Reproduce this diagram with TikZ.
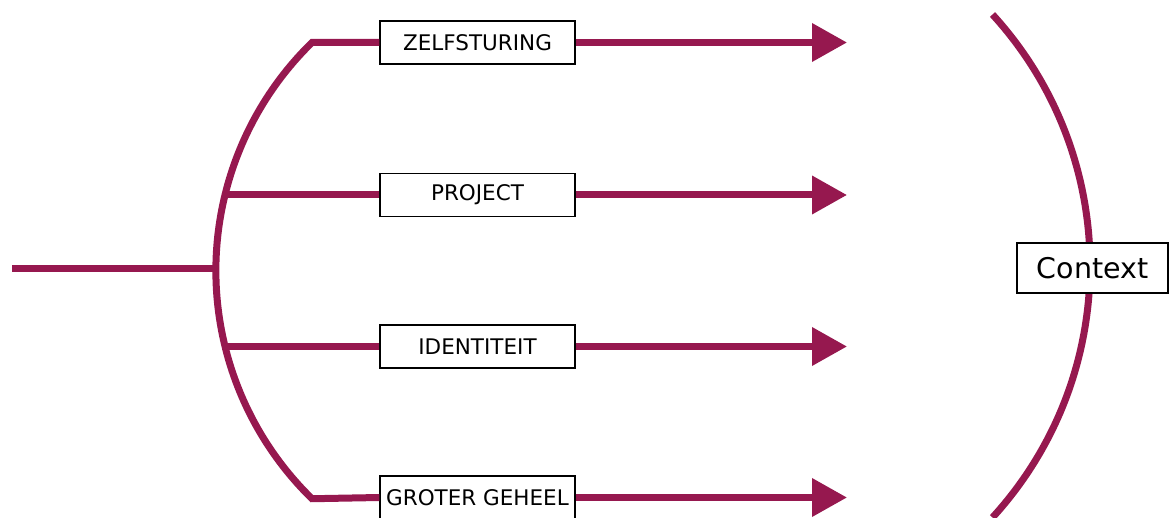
\documentclass[tikz,border=0pt]{standalone}
\usepackage{fontspec}
\setmainfont{DejaVu Sans}
\usetikzlibrary{arrows.meta}
\definecolor{wine}{HTML}{96184F}
\tikzset{
  lbl/.style={draw=black, line width=1.3pt, fill=white, minimum width=195pt, minimum height=43pt, inner sep=0pt, font=\fontsize{21.5}{24}\selectfont},
  ctx/.style={draw=black, line width=1.3pt, fill=white, minimum width=151pt, minimum height=50pt, inner sep=0pt, font=\fontsize{28.5}{32}\selectfont},
  wline/.style={draw=wine, line width=7pt},
  warrow/.style={wline, -{Triangle[length=35pt,width=37pt]}}
}
\begin{document}
\begin{tikzpicture}[x=1pt,y=1pt]
\useasboundingbox (0,0) rectangle (1169,-518);
% boxes
\node[lbl] (z) at (477.5,-42.5) {ZELFSTURING};
\node[lbl] (p) at (477.5,-195) {PROJECT};
\node[lbl] (i) at (477.5,-346.5) {IDENTITEIT};
\node[lbl] (g) at (477.5,-497.5) {GROTER GEHEEL};
% coordinates
\coordinate (in) at (12,-269);
\coordinate (hub) at (216,-269);
\coordinate (atop) at (312,-42.5);
\coordinate (abot) at (312,-497.5);
\coordinate (ap) at (225,-195);
\coordinate (ai) at (225,-346.5);
\coordinate (tz) at (847,-42.5);
\coordinate (tp) at (847,-195);
\coordinate (ti) at (847,-346.5);
\coordinate (tg) at (847,-497.5);
% left fork
\draw[wline, line join=miter] (z.west) -- (atop) arc[start angle=134.3, end angle=225.7, radius=318.75] -- (g.west);
\draw[wline] (in) -- (hub);
\draw[wline] (ap) -- (p.west);
\draw[wline] (ai) -- (i.west);
% arrows
\draw[warrow] (z.east) -- (tz);
\draw[warrow] (p.east) -- (tp);
\draw[warrow] (i.east) -- (ti);
\draw[warrow] (g.east) -- (tg);
% right arc
\coordinate (rtop) at (992.5,-14.5);
\draw[wline] (rtop) arc[start angle=42.4, end angle=-42.4, radius=373];
\node[ctx] (c) at (1092.5,-268) {Context};
\end{tikzpicture}
\end{document}
